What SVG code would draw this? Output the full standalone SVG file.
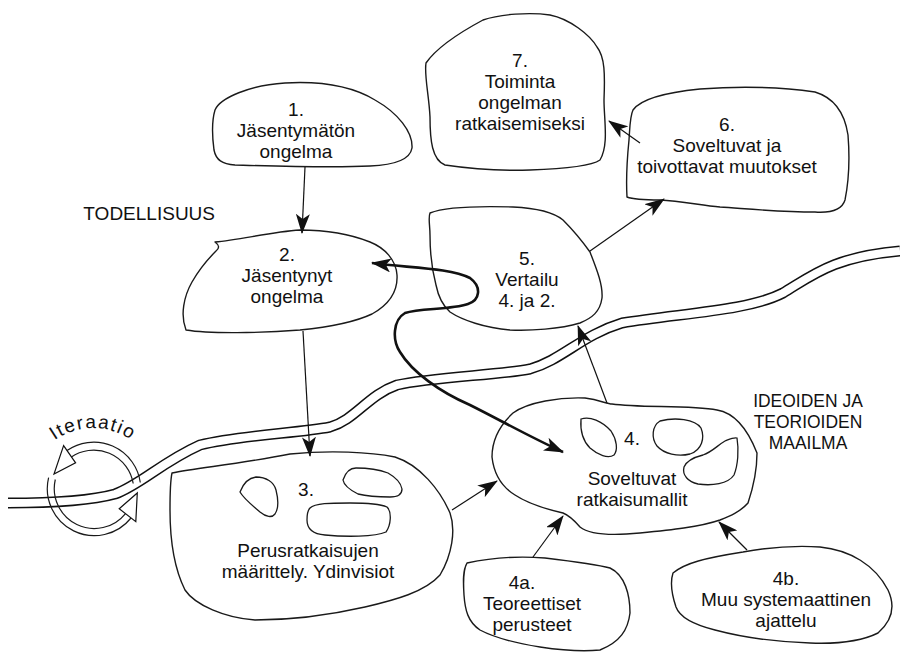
<svg xmlns="http://www.w3.org/2000/svg" width="900" height="657" viewBox="0 0 900 657">
<defs>
<style>
.b{fill:#fff;stroke:#1a1a1a;stroke-width:1.4;stroke-linejoin:round}
.i{fill:none;stroke:#1a1a1a;stroke-width:1.3}
.t{font-family:"Liberation Sans",Arial,sans-serif;font-size:19px;fill:#111;text-anchor:middle}
.c{fill:none;stroke:#1a1a1a;stroke-width:1.2}
.bold{fill:none;stroke:#111;stroke-width:2.6}
</style>
<marker id="ah" viewBox="0 0 20 14" refX="19" refY="7" markerWidth="20" markerHeight="14" markerUnits="userSpaceOnUse" orient="auto-start-reverse">
<path d="M0,0 L20,7 L0,14 L5,7 Z" fill="#111"/>
</marker>
</defs>
<g id="river">
<path d="M 8 503 C 50 503, 90 501, 115 494 C 140 485, 162 462, 200 445 C 240 435, 300 433, 330 427 C 355 420, 368 395, 397 385 C 432 377, 500 375, 530 369 C 562 360, 582 335, 622 323 C 682 313, 748 311, 783 293 C 813 275, 833 257, 900 251" fill="none" stroke="#111" stroke-width="11"/>
<path d="M 8 503 C 50 503, 90 501, 115 494 C 140 485, 162 462, 200 445 C 240 435, 300 433, 330 427 C 355 420, 368 395, 397 385 C 432 377, 500 375, 530 369 C 562 360, 582 335, 622 323 C 682 313, 748 311, 783 293 C 813 275, 833 257, 900 251" fill="none" stroke="#fff" stroke-width="8"/>
</g>
<g id="iteration">
<path d="M 140.3 482.5 A 47 47 0 0 0 67 450.5 M 133.2 483.5 A 40 40 0 0 0 71 457.2" class="c"/>
<path d="M 48.6 477.7 A 47 47 0 0 0 131 518 M 55.3 479.5 A 40 40 0 0 0 125.5 513.5" class="c"/>
<path d="M 63.6 445.6 L 54 474 L 75.6 462.8 Z" fill="#fff" stroke="#111" stroke-width="1.2"/>
<path d="M 135.8 521.6 L 137.3 493 L 119.2 508.7 Z" fill="#fff" stroke="#111" stroke-width="1.2"/>
<path id="arcp" d="M 27 494 A 66 66 0 0 1 159 494" fill="none"/>
<text class="t" font-size="19" letter-spacing="1.5"><textPath href="#arcp" startOffset="50%">Iteraatio</textPath></text>
</g>
<g id="labels">
<text class="t" x="215" y="220" font-size="17" style="text-anchor:end">TODELLISUUS</text>
<g transform="translate(808 0) scale(0.92 1)">
<text class="t" x="0" y="407">IDEOIDEN JA</text>
<text class="t" x="0" y="428">TEORIOIDEN</text>
<text class="t" x="0" y="449">MAAILMA</text>
</g>
</g>
<g id="node1">
<path class="b" d="M 215 110 C 220 98, 250 85, 285 83 C 320 81, 350 85, 375 100 C 398 113, 413 132, 412 148 C 410 160, 395 165, 370 166 C 330 168, 270 166, 235 165 C 222 164, 216 160, 214 150 C 212 135, 212 120, 215 110 Z"/>
<text class="t" x="296" y="116">1.</text>
<text class="t" x="296" y="137">Jäsentymätön</text>
<text class="t" x="296" y="158">ongelma</text>
</g>
<g id="node2">
<path class="b" d="M 215 242 C 219 245, 220 248, 216 251 C 209 258, 200 268, 192 282 C 184 296, 180 315, 186 330 C 210 334, 260 333, 300 330 C 330 327, 355 322, 372 314 C 388 305, 398 292, 397 275 C 396 260, 385 248, 370 242 C 345 232, 320 230, 300 230 C 270 232, 240 240, 215 242 Z"/>
<text class="t" x="287" y="261">2.</text>
<text class="t" x="287" y="282">Jäsentynyt</text>
<text class="t" x="287" y="303">ongelma</text>
</g>
<g id="node3">
<path class="b" d="M 172 473 C 195 468, 240 464, 290 454 C 330 450, 370 452, 395 457 C 420 465, 440 490, 450 513 C 456 530, 452 555, 440 575 C 425 592, 395 600, 365 607 C 330 615, 290 620, 255 620 C 225 618, 195 605, 185 590 C 175 570, 170 540, 170 510 C 170 495, 170 482, 172 473 Z"/>
<path class="i" d="M 240 492 C 243 484, 248 478, 256 477 C 266 477, 274 482, 276 490 C 278 498, 279 508, 275 514 C 272 518, 266 517, 260 512 C 252 505, 244 499, 240 492 Z"/>
<path class="i" d="M 343 480 C 345 474, 348 468, 356 468 C 368 468, 380 470, 388 473 C 395 477, 401 483, 402 489 C 402 495, 398 497, 390 497 C 378 497, 366 496, 358 494 C 350 490, 344 486, 343 480 Z"/>
<path class="i" d="M 310 508 C 315 503, 330 503, 350 503 C 365 503, 380 504, 387 507 C 392 512, 391 525, 386 532 C 375 537, 345 537, 325 535 C 312 534, 307 528, 307 520 C 307 514, 308 510, 310 508 Z"/>
<text class="t" x="306" y="496">3.</text>
<text class="t" x="308" y="557">Perusratkaisujen</text>
<text class="t" x="308" y="578">määrittely.  Ydinvisiot</text>
</g>
<g id="node4">
<path class="b" d="M 513 413 C 528 402, 560 397, 585 398 C 600 400, 607 404, 612 404 C 640 408, 690 405, 717 410 C 735 413, 748 430, 757 453 C 757 465, 754 485, 748 503 C 740 512, 730 516, 720 520 C 700 527, 670 530, 640 533 C 610 536, 590 535, 580 527 C 574 520, 568 515, 563 513 C 550 510, 530 505, 515 495 C 502 487, 494 475, 492 457 C 492 440, 500 425, 513 413 Z"/>
<path class="i" d="M 581 419 C 590 416, 602 421, 611 431 C 617 440, 618 450, 614 455 C 608 459, 598 455, 590 448 C 583 441, 580 432, 581 419 Z"/>
<path class="i" d="M 660 421 C 675 417, 695 419, 701 428 C 705 438, 702 450, 690 454 C 678 457, 664 454, 657 446 C 651 438, 652 426, 660 421 Z"/>
<path class="i" d="M 737 438 C 739 450, 738 465, 734 475 C 728 484, 712 486, 698 484 C 688 482, 682 475, 684 467 C 687 460, 695 457, 703 455 C 712 452, 718 445, 725 441 C 730 439, 734 437, 737 438 Z"/>
<text class="t" x="632" y="445">4.</text>
<text class="t" x="632" y="485">Soveltuvat</text>
<text class="t" x="632" y="506">ratkaisumallit</text>
</g>
<g id="node4a">
<path class="b" d="M 467 563 C 490 558, 520 556, 545 558 C 570 561, 595 564, 610 568 C 625 575, 630 595, 630 613 C 628 630, 620 642, 600 650 C 580 652, 560 650, 540 647 C 515 643, 495 638, 480 630 C 468 622, 465 610, 464 595 C 463 580, 463 570, 467 563 Z"/>
<text class="t" x="522" y="589">4a.</text>
<text class="t" x="532" y="610">Teoreettiset</text>
<text class="t" x="532" y="631">perusteet</text>
</g>
<g id="node4b">
<path class="b" d="M 673 573 C 685 563, 705 558, 743 552 C 765 548, 790 545, 820 547 C 850 550, 875 565, 888 590 C 895 605, 893 620, 878 633 C 860 642, 835 644, 810 643 C 780 642, 745 638, 715 630 C 695 625, 680 618, 676 607 C 672 595, 670 582, 673 573 Z"/>
<text class="t" x="786" y="585">4b.</text>
<text class="t" x="786" y="606">Muu systemaattinen</text>
<text class="t" x="786" y="627">ajattelu</text>
</g>
<g id="node5">
<path class="b" d="M 430 213 C 445 207, 480 206, 513 207 C 535 208, 552 211, 563 220 C 575 232, 585 245, 590 252 C 597 270, 603 285, 602 298 C 600 312, 592 318, 580 323 C 560 329, 530 331, 510 330 C 485 328, 462 320, 450 312 C 442 305, 438 295, 436 285 C 432 270, 430 250, 430 235 C 430 225, 428 218, 430 213 Z"/>
<text class="t" x="527" y="265">5.</text>
<text class="t" x="527" y="286">Vertailu</text>
<text class="t" x="527" y="307">4. ja 2.</text>
</g>
<g id="node6">
<path class="b" d="M 633 110 C 640 100, 660 93, 700 89 C 740 86, 780 87, 815 92 C 835 98, 845 115, 848 135 C 850 160, 848 185, 845 200 C 842 210, 830 213, 815 212 C 780 212, 750 209, 720 207 C 700 205, 680 201, 660 200 C 645 200, 632 199, 627 197 C 626 180, 627 160, 629 140 C 630 125, 630 116, 633 110 Z"/>
<text class="t" x="727" y="131">6.</text>
<text class="t" x="727" y="152">Soveltuvat ja</text>
<text class="t" x="727" y="173">toivottavat muutokset</text>
</g>
<g id="node7">
<path class="b" d="M 426 63 C 435 50, 455 35, 483 20 C 500 14, 530 12, 550 15 C 570 19, 590 35, 597 47 C 605 57, 605 75, 604 100 C 604 120, 609 145, 600 160 C 590 167, 560 169, 530 170 C 500 171, 465 168, 445 165 C 432 160, 430 140, 430 117 C 429 95, 424 75, 426 63 Z"/>
<text class="t" x="520" y="67">7.</text>
<text class="t" x="520" y="88">Toiminta</text>
<text class="t" x="520" y="109">ongelman</text>
<text class="t" x="520" y="130">ratkaisemiseksi</text>
</g>
<g id="connectors" fill="none" stroke="#111" stroke-width="1.2">
<path d="M 305 167 L 302 233" marker-end="url(#ah)"/>
<path d="M 303 331 L 310 456" marker-end="url(#ah)"/>
<path d="M 452 510 L 497 481" marker-end="url(#ah)"/>
<path d="M 533 557 L 563 516" marker-end="url(#ah)"/>
<path d="M 747 550 L 719 522" marker-end="url(#ah)"/>
<path d="M 607 403 L 578 326" marker-end="url(#ah)"/>
<path d="M 590 251 L 664 199" marker-end="url(#ah)"/>
<path d="M 640 143 L 609 121" marker-end="url(#ah)"/>
<path class="bold" d="M 372 263 C 410 268, 450 268, 470 278 C 482 287, 480 300, 468 304 C 450 310, 420 308, 405 313 C 393 320, 392 340, 400 352 C 412 372, 440 392, 470 405 C 500 420, 530 437, 563 452" marker-start="url(#ah)" marker-end="url(#ah)"/>
</g>
</svg>
